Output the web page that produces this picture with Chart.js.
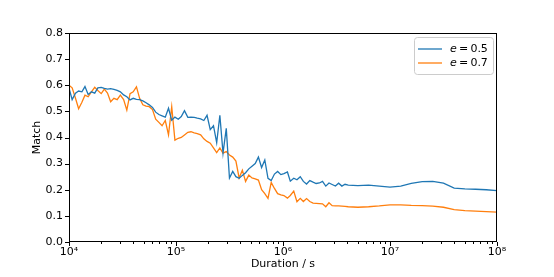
<!DOCTYPE html>
<html lang="en">
<head>
<meta charset="UTF-8">
<title>Match vs duration</title>
<script src="https://cdn.jsdelivr.net/npm/chart.js"></script>
<style>
  html, body { margin: 0; padding: 0; background: #fff; }
  #wrap { width: 554px; height: 277px; }
</style>
</head>
<body>
<div id="wrap"><canvas id="myChart" width="554" height="277"></canvas></div>
<script>
// durations (s), roughly log spaced like the original sampling
const durations = [
  1.00e4, 1.07e4, 1.15e4, 1.23e4, 1.32e4, 1.41e4, 1.51e4, 1.62e4, 1.74e4, 1.86e4,
  2.00e4, 2.14e4, 2.29e4, 2.45e4, 2.63e4, 2.82e4, 3.02e4, 3.24e4, 3.47e4, 3.72e4,
  3.98e4, 4.27e4, 4.57e4, 4.90e4, 5.25e4, 5.62e4, 6.03e4, 6.46e4, 6.92e4, 7.41e4,
  7.94e4, 8.51e4, 9.12e4, 9.77e4,
  1.05e5, 1.12e5, 1.20e5, 1.29e5, 1.38e5, 1.48e5, 1.58e5, 1.70e5, 1.82e5, 1.95e5,
  2.09e5, 2.24e5, 2.40e5, 2.57e5, 2.75e5, 2.95e5, 3.16e5, 3.39e5, 3.63e5, 3.89e5,
  4.17e5, 4.47e5, 4.79e5, 5.13e5, 5.50e5, 5.89e5, 6.31e5, 6.76e5, 7.24e5, 7.76e5,
  8.32e5, 8.91e5, 9.55e5,
  1.02e6, 1.10e6, 1.17e6, 1.26e6, 1.35e6, 1.45e6, 1.55e6, 1.66e6, 1.78e6, 1.91e6,
  2.04e6, 2.19e6, 2.34e6, 2.51e6, 2.69e6, 2.88e6, 3.09e6, 3.31e6, 3.55e6, 3.80e6,
  4.07e6,
  5.01e6, 6.31e6, 7.94e6, 1.00e7, 1.26e7, 1.58e7, 2.00e7, 2.51e7, 3.16e7, 3.98e7,
  5.01e7, 6.31e7, 7.94e7, 1.00e8
];

const match05 = [
  0.590, 0.545, 0.570, 0.578, 0.575, 0.595, 0.565, 0.575, 0.570, 0.590,
  0.592, 0.588, 0.585, 0.587, 0.584, 0.580, 0.575, 0.563, 0.556, 0.544,
  0.550, 0.546, 0.545, 0.540, 0.533, 0.525, 0.515, 0.497, 0.488, 0.483,
  0.478, 0.512, 0.466, 0.478,
  0.470, 0.480, 0.503, 0.477, 0.478, 0.477, 0.474, 0.471, 0.465, 0.485,
  0.430, 0.445, 0.380, 0.485, 0.340, 0.435, 0.245, 0.270, 0.250, 0.244,
  0.255, 0.265, 0.280, 0.290, 0.300, 0.325, 0.285, 0.314, 0.244, 0.235,
  0.260, 0.270, 0.258,
  0.262, 0.268, 0.233, 0.244, 0.238, 0.250, 0.232, 0.222, 0.235, 0.229,
  0.224, 0.226, 0.232, 0.214, 0.226, 0.220, 0.214, 0.225, 0.214, 0.221,
  0.218,
  0.216, 0.218, 0.214, 0.210, 0.214, 0.224, 0.231, 0.232, 0.225, 0.206,
  0.203, 0.202, 0.200, 0.197
];

const match07 = [
  0.600, 0.590, 0.550, 0.510, 0.535, 0.562, 0.556, 0.575, 0.592, 0.580,
  0.568, 0.585, 0.570, 0.537, 0.550, 0.545, 0.562, 0.545, 0.505, 0.568,
  0.575, 0.594, 0.550, 0.525, 0.520, 0.518, 0.507, 0.470, 0.458, 0.445,
  0.465, 0.410, 0.518, 0.390,
  0.397, 0.400, 0.410, 0.420, 0.422, 0.418, 0.415, 0.410, 0.395, 0.385,
  0.378, 0.360, 0.342, 0.360, 0.340, 0.346, 0.333, 0.325, 0.310, 0.245,
  0.275, 0.232, 0.256, 0.245, 0.242, 0.237, 0.200, 0.185, 0.167, 0.228,
  0.205, 0.185, 0.180,
  0.178, 0.168, 0.178, 0.195, 0.154, 0.167, 0.155, 0.166, 0.155, 0.149,
  0.148, 0.147, 0.146, 0.135, 0.150, 0.139, 0.138, 0.138, 0.137, 0.136,
  0.135,
  0.133, 0.135, 0.138, 0.142, 0.142, 0.140, 0.139, 0.137, 0.133, 0.124,
  0.120, 0.118, 0.116, 0.114
];

const seriesLabels = ['0.5', '0.7'];
const yTicks = [0, 0.1, 0.2, 0.3, 0.4, 0.5, 0.6, 0.7, 0.8];
const xDecades = [4, 5, 6, 7, 8];

const sup = {'0':'\u2070','1':'\u00b9','2':'\u00b2','3':'\u00b3','4':'\u2074','5':'\u2075','6':'\u2076','7':'\u2077','8':'\u2078','9':'\u2079'};
const FONT = "'DejaVu Sans', sans-serif";

// ticks drawn by hand so minor ones can be shorter, plus the box around the plot
const frameAndTicks = {
  id: 'frameAndTicks',
  afterDraw(chart) {
    const {ctx, chartArea: a, scales} = chart;
    ctx.save();
    ctx.strokeStyle = '#000';
    ctx.lineWidth = 1;
    ctx.strokeRect(a.left + 0.5, a.top + 0.5, a.right - a.left - 1, a.bottom - a.top - 1);
    ctx.beginPath();
    scales.x.ticks.forEach(t => {
      const px = Math.round(scales.x.getPixelForValue(t.value)) + 0.5;
      const len = t.major ? 4 : 2;
      ctx.moveTo(px, a.bottom);
      ctx.lineTo(px, a.bottom + len);
    });
    scales.y.ticks.forEach(t => {
      const py = Math.round(scales.y.getPixelForValue(t.value)) + 0.5;
      ctx.moveTo(a.left, py);
      ctx.lineTo(a.left - 4, py);
    });
    ctx.stroke();
    ctx.restore();
  }
};

const mathLegend = {
  id: 'mathLegend',
  afterDraw(chart) {
    const {ctx, chartArea: a} = chart;
    const w = 79, h = 37;
    const x0 = a.right - w - 4, y0 = a.top + 4;
    ctx.save();
    ctx.beginPath();
    ctx.roundRect(x0 + 0.5, y0 + 0.5, w, h, 3);
    ctx.fillStyle = 'rgba(255,255,255,0.8)';
    ctx.fill();
    ctx.strokeStyle = '#cccccc';
    ctx.lineWidth = 1;
    ctx.stroke();
    chart.data.datasets.forEach((ds, i) => {
      const yy = y0 + 12 + i * 14;
      ctx.beginPath();
      ctx.strokeStyle = ds.borderColor;
      ctx.lineWidth = 1.3;
      ctx.moveTo(x0 + 4, yy);
      ctx.lineTo(x0 + 28, yy);
      ctx.stroke();
      ctx.fillStyle = '#000';
      ctx.textBaseline = 'middle';
      ctx.font = 'oblique 11px ' + FONT;
      ctx.fillText('e', x0 + 36, yy);
      const ew = ctx.measureText('e').width;
      ctx.font = '11px ' + FONT;
      ctx.fillText('\u2009=\u2009' + seriesLabels[i], x0 + 36 + ew, yy);
    });
    ctx.restore();
  }
};

const ctx = document.getElementById('myChart').getContext('2d');
const myChart = new Chart(ctx, {
  type: 'line',
  data: {
    datasets: [
      {
        label: 'e = ' + seriesLabels[0],
        data: durations.map((d, i) => ({x: d, y: match05[i]})),
        borderColor: '#1f77b4',
        borderWidth: 1.3,
        pointRadius: 0,
        tension: 0,
        fill: false
      },
      {
        label: 'e = ' + seriesLabels[1],
        data: durations.map((d, i) => ({x: d, y: match07[i]})),
        borderColor: '#ff7f0e',
        borderWidth: 1.3,
        pointRadius: 0,
        tension: 0,
        fill: false
      }
    ]
  },
  options: {
    responsive: false,
    animation: false,
    events: [],
    layout: { padding: { top: 33, right: 57, left: 31, bottom: 6 } },
    plugins: { legend: { display: false }, tooltip: { enabled: false } },
    scales: {
      x: {
        type: 'logarithmic',
        min: 1e4,
        max: 1e8,
        afterBuildTicks(scale) {
          const ticks = [];
          xDecades.forEach(p => {
            for (let m = 1; m <= 9; m++) {
              const v = m * Math.pow(10, p);
              if (v <= 1e8) ticks.push({value: v, major: m === 1});
            }
          });
          scale.ticks = ticks;
        },
        afterFit(scale) { scale.height = 29; },
        grid: { display: false, drawTicks: false, tickLength: 0 },
        border: { display: false },
        ticks: {
          autoSkip: false,
          maxRotation: 0,
          padding: 4,
          color: '#000',
          font: { family: FONT, size: 11 },
          callback(v) {
            const p = Math.log10(v);
            if (Math.abs(p - Math.round(p)) > 1e-9) return '';
            return '10' + String(Math.round(p)).split('').map(c => sup[c]).join('');
          }
        },
        title: {
          display: true,
          text: 'Duration / s',
          color: '#000',
          padding: { top: 0, bottom: 0 },
          font: { family: FONT, size: 11 }
        }
      },
      y: {
        min: 0,
        max: 0.8,
        afterBuildTicks(scale) { scale.ticks = yTicks.map(v => ({value: v})); },
        afterFit(scale) { scale.width = 38; },
        grid: { display: false, drawTicks: false, tickLength: 0 },
        border: { display: false },
        ticks: {
          padding: 6,
          color: '#000',
          font: { family: FONT, size: 11 },
          callback: v => Number(v).toFixed(1)
        },
        title: {
          display: true,
          text: 'Match',
          color: '#000',
          padding: { top: 0, bottom: 0 },
          font: { family: FONT, size: 11 }
        }
      }
    }
  },
  plugins: [frameAndTicks, mathLegend]
});
</script>
</body>
</html>
